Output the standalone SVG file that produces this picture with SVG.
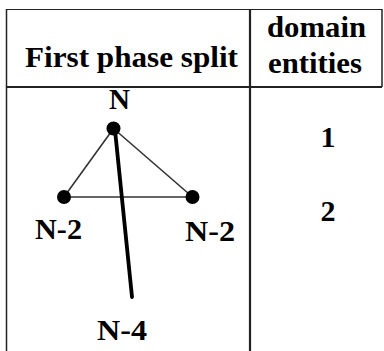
<svg xmlns="http://www.w3.org/2000/svg" width="384" height="351" viewBox="0 0 384 351">
<style>
  .t { font-family: "Liberation Serif", "Times New Roman", serif; font-weight: bold; font-size: 30px; fill: #000; }
  .border { stroke: #222; fill: none; }
  .thin { stroke: #333; stroke-width: 1.6; fill: none; }
  .thick { stroke: #000; stroke-width: 3.8; fill: none; stroke-linecap: round; }
  .dot { fill: #000; }
</style>
<rect width="384" height="351" fill="#fff"/>
<g id="table">
  <line class="border" x1="6.5" y1="9.5" x2="382" y2="9.5" stroke-width="1.2"/>
  <line class="border" x1="6.5" y1="9" x2="6.5" y2="351" stroke-width="1.5"/>
  <line class="border" x1="382" y1="9" x2="382" y2="87" stroke-width="1.5"/>
  <line class="border" x1="250" y1="9" x2="250" y2="351" stroke-width="2.2"/>
  <line class="border" x1="6" y1="87" x2="382" y2="87" stroke-width="2.2"/>
  <text class="t" x="25" y="67" textLength="213" lengthAdjust="spacingAndGlyphs">First phase split</text>
  <text class="t" x="267" y="37" textLength="99" lengthAdjust="spacingAndGlyphs">domain</text>
  <text class="t" x="268" y="73" textLength="94" lengthAdjust="spacingAndGlyphs">entities</text>
  <text class="t" x="328" y="147" text-anchor="middle">1</text>
  <text class="t" x="328" y="221" text-anchor="middle">2</text>
</g>
<g id="connectors">
  <line class="thin" x1="113.5" y1="128.5" x2="64" y2="197"/>
  <line class="thin" x1="113.5" y1="128.5" x2="192.5" y2="197"/>
  <line class="thin" x1="64" y1="197" x2="192.5" y2="197" stroke-width="2"/>
  <line class="thick" x1="115" y1="130" x2="132" y2="297"/>
</g>
<g id="node-N">
  <circle class="dot" cx="113.5" cy="128.5" r="7"/>
  <text class="t" x="109" y="109" textLength="21" lengthAdjust="spacingAndGlyphs">N</text>
</g>
<g id="node-N2-left">
  <circle class="dot" cx="64" cy="197" r="7"/>
  <text class="t" x="35" y="239" textLength="47" lengthAdjust="spacingAndGlyphs">N-2</text>
</g>
<g id="node-N2-right">
  <circle class="dot" cx="192.5" cy="197" r="7"/>
  <text class="t" x="185" y="241" textLength="50" lengthAdjust="spacingAndGlyphs">N-2</text>
</g>
<g id="node-N4">
  <text class="t" x="97" y="340" textLength="50" lengthAdjust="spacingAndGlyphs">N-4</text>
</g>
</svg>
